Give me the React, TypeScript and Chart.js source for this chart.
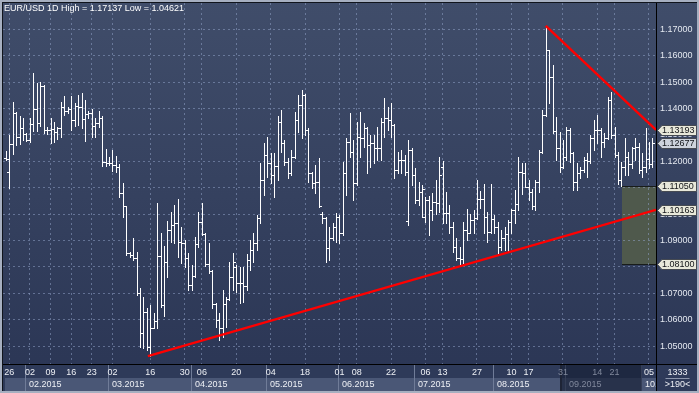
import React, { useEffect, useRef } from 'react';
import { Chart, registerables } from 'chart.js';

Chart.register(...registerables);

// ---------------- data ----------------
const TITLE = 'EUR/USD 1D High = 1.17137 Low = 1.04621';
const BAR_TOTAL = '1333';
const VISIBLE_BARS = '>190<';

const OPEN = [
  1.1211, 1.1158, 1.1264, 1.1382, 1.1291, 1.1325, 1.1304, 1.1281, 1.1343, 1.1400,
  1.1344, 1.1485, 1.1318, 1.1318, 1.1323, 1.1310, 1.1325, 1.1404, 1.1392, 1.1400,
  1.1357, 1.1410, 1.1407, 1.1360, 1.1380, 1.1382, 1.1334, 1.1347, 1.1365, 1.1197,
  1.1194, 1.1192, 1.1186, 1.1177, 1.1079, 1.1030, 1.0852, 1.0845, 1.0835, 1.0700,
  1.0550, 1.0630, 1.0497, 1.0570, 1.0596, 1.0840, 1.0655, 1.0820, 1.0938, 1.0960,
  1.0965, 1.0893, 1.0890, 1.0832, 1.0730, 1.0765, 1.0885, 1.0970, 1.0925, 1.0812,
  1.0785, 1.0660, 1.0600, 1.0570, 1.0660, 1.0680, 1.0763, 1.0800, 1.0740, 1.0738,
  1.0728, 1.0826, 1.0864, 1.0889, 1.0984, 1.1129, 1.1224, 1.1192, 1.1148, 1.1182,
  1.1350, 1.1268, 1.1199, 1.1155, 1.1218, 1.1357, 1.1413, 1.1451, 1.1320, 1.1155,
  1.1117, 1.1120, 1.1000, 1.0985, 1.0870, 1.0908, 1.0953, 1.0990, 1.0927, 1.1155,
  1.1275, 1.1237, 1.1117, 1.1294, 1.1287, 1.1325, 1.1262, 1.1268, 1.1249, 1.1249,
  1.1350, 1.1363, 1.1357, 1.1338, 1.1167, 1.1205, 1.1205, 1.0975, 1.1243, 1.1148,
  1.1054, 1.1085, 1.0990, 1.1054, 1.1016, 1.1047, 1.1041, 1.1180, 1.1005, 1.1005,
  1.0952, 1.0876, 1.0832, 1.0828, 1.0939, 1.0930, 1.0977, 1.0985, 1.1059, 1.1059,
  1.0990, 1.0933, 1.0980, 1.0952, 1.0876, 1.0908, 1.0925, 1.0971, 1.1015, 1.1040,
  1.1160, 1.1154, 1.1104, 1.1085, 1.1030, 1.1120, 1.1236, 1.1375, 1.1621, 1.1519,
  1.1316, 1.1249, 1.1180, 1.1215, 1.1318, 1.1230, 1.1122, 1.1154, 1.1167, 1.1205,
  1.1200, 1.1287, 1.1318, 1.1318, 1.1274, 1.1290, 1.1432, 1.1300, 1.1225, 1.1130,
  1.1180, 1.1215, 1.1190, 1.1249, 1.1255, 1.1168, 1.1180, 1.1210, 1.1190,
];

const HIGH = [
  1.1240, 1.1300, 1.1424, 1.1388, 1.1372, 1.1363, 1.1306, 1.1363, 1.1534, 1.1496,
  1.1500, 1.1488, 1.1330, 1.1363, 1.1350, 1.1331, 1.1424, 1.1448, 1.1407, 1.1449,
  1.1420, 1.1451, 1.1458, 1.1432, 1.1391, 1.1397, 1.1363, 1.1391, 1.1372, 1.1246,
  1.1218, 1.1243, 1.1220, 1.1190, 1.1117, 1.1032, 1.0858, 1.0908, 1.0858, 1.0719,
  1.0685, 1.0643, 1.0656, 1.0624, 1.1043, 1.0927, 1.0878, 1.0972, 1.1009, 1.1035,
  1.1056, 1.0952, 1.0900, 1.0851, 1.0807, 1.0914, 1.1009, 1.1041, 1.0927, 1.0889,
  1.0788, 1.0665, 1.0624, 1.0713, 1.0687, 1.0820, 1.0854, 1.0807, 1.0801, 1.0801,
  1.0850, 1.0902, 1.0927, 1.0997, 1.1193, 1.1268, 1.1291, 1.1230, 1.1230, 1.1372,
  1.1395, 1.1281, 1.1211, 1.1243, 1.1388, 1.1451, 1.1470, 1.1455, 1.1325, 1.1160,
  1.1186, 1.1211, 1.1009, 1.0990, 1.0952, 1.0965, 1.1003, 1.0995, 1.1199, 1.1287,
  1.1382, 1.1281, 1.1350, 1.1388, 1.1344, 1.1331, 1.1300, 1.1300, 1.1331, 1.1363,
  1.1439, 1.1407, 1.1420, 1.1340, 1.1237, 1.1243, 1.1224, 1.1281, 1.1250, 1.1173,
  1.1123, 1.1110, 1.1066, 1.1070, 1.1079, 1.1129, 1.1217, 1.1202, 1.1085, 1.1034,
  1.0971, 1.0908, 1.0876, 1.0971, 1.1021, 1.1002, 1.1015, 1.1131, 1.1088, 1.1116,
  1.1009, 1.1116, 1.0996, 1.0971, 1.0939, 1.0952, 1.0977, 1.1021, 1.1091, 1.1217,
  1.1192, 1.1192, 1.1129, 1.1097, 1.1129, 1.1243, 1.1394, 1.17137, 1.1621, 1.1565,
  1.1369, 1.1312, 1.1280, 1.1331, 1.1325, 1.1235, 1.1192, 1.1179, 1.1217, 1.1230,
  1.1299, 1.1356, 1.1375, 1.1325, 1.1306, 1.1444, 1.1463, 1.1331, 1.1235, 1.1198,
  1.1290, 1.1236, 1.1255, 1.1287, 1.1268, 1.1230, 1.1325, 1.1274, 1.1290,
];

const LOW = [
  1.1205, 1.1098, 1.1227, 1.1262, 1.1266, 1.1281, 1.1277, 1.1272, 1.1316, 1.1316,
  1.1335, 1.1309, 1.1305, 1.1271, 1.1275, 1.1283, 1.1294, 1.1376, 1.1382, 1.1319,
  1.1335, 1.1338, 1.1325, 1.1277, 1.1363, 1.1291, 1.1291, 1.1331, 1.1182, 1.1182,
  1.1185, 1.1163, 1.1161, 1.1066, 1.0988, 1.0845, 1.0839, 1.0826, 1.0694, 1.0498,
  1.0492, 1.0485, 1.04621, 1.0567, 1.0570, 1.0649, 1.0615, 1.0763, 1.0896, 1.0889,
  1.0839, 1.0814, 1.0800, 1.0713, 1.0714, 1.0760, 1.0877, 1.0921, 1.0805, 1.0776,
  1.0643, 1.0574, 1.0523, 1.0535, 1.0573, 1.0675, 1.0713, 1.0706, 1.0662, 1.0668,
  1.0712, 1.0788, 1.0820, 1.0864, 1.0965, 1.1073, 1.1142, 1.1117, 1.1066, 1.1129,
  1.1237, 1.1186, 1.1136, 1.1148, 1.1211, 1.1312, 1.1287, 1.1300, 1.1123, 1.1098,
  1.1079, 1.1028, 1.0965, 1.0820, 1.0826, 1.0902, 1.0896, 1.0889, 1.0920, 1.1073,
  1.1218, 1.1054, 1.1110, 1.1218, 1.1256, 1.1155, 1.1180, 1.1192, 1.1205, 1.1205,
  1.1294, 1.1319, 1.1294, 1.1136, 1.1155, 1.1155, 1.1148, 1.0959, 1.1110, 1.1041,
  1.1035, 1.0990, 1.0971, 1.0921, 1.0978, 1.1000, 1.1009, 1.0965, 1.0967, 1.0927,
  1.0857, 1.0826, 1.0807, 1.0813, 1.0901, 1.0927, 1.0927, 1.0980, 1.1022, 1.0927,
  1.0895, 1.0927, 1.0927, 1.0851, 1.0864, 1.0864, 1.0857, 1.0927, 1.0965, 1.1015,
  1.1078, 1.1104, 1.1053, 1.1021, 1.1015, 1.1085, 1.1230, 1.1372, 1.1420, 1.1306,
  1.1205, 1.1160, 1.1173, 1.1205, 1.1198, 1.1091, 1.1091, 1.1135, 1.1160, 1.1141,
  1.1195, 1.1243, 1.1268, 1.1217, 1.1255, 1.1285, 1.1290, 1.1217, 1.1116, 1.1107,
  1.1150, 1.1150, 1.1173, 1.1205, 1.1154, 1.1141, 1.1160, 1.1173, 1.1180,
];

const CLOSE = [
  1.1209, 1.1264, 1.1382, 1.1291, 1.1325, 1.1304, 1.1281, 1.1343, 1.1400, 1.1344,
  1.1485, 1.1318, 1.1320, 1.1323, 1.1310, 1.1325, 1.1404, 1.1392, 1.1400, 1.1357,
  1.1410, 1.1407, 1.1360, 1.1380, 1.1382, 1.1334, 1.1347, 1.1365, 1.1197, 1.1194,
  1.1192, 1.1186, 1.1177, 1.1079, 1.1030, 1.0852, 1.0845, 1.0835, 1.0700, 1.0550,
  1.0630, 1.0497, 1.0570, 1.0596, 1.0840, 1.0655, 1.0820, 1.0938, 1.0960, 1.0965,
  1.0893, 1.0890, 1.0832, 1.0730, 1.0765, 1.0885, 1.0970, 1.0925, 1.0812, 1.0785,
  1.0660, 1.0600, 1.0570, 1.0660, 1.0680, 1.0763, 1.0820, 1.0740, 1.0738, 1.0728,
  1.0826, 1.0864, 1.0889, 1.0984, 1.1129, 1.1224, 1.1192, 1.1148, 1.1182, 1.1350,
  1.1268, 1.1199, 1.1155, 1.1218, 1.1357, 1.1413, 1.1451, 1.1320, 1.1155, 1.1117,
  1.1120, 1.1030, 1.0985, 1.0870, 1.0908, 1.0953, 1.0990, 1.0927, 1.1155, 1.1275,
  1.1237, 1.1117, 1.1294, 1.1287, 1.1325, 1.1262, 1.1268, 1.1249, 1.1249, 1.1350,
  1.1363, 1.1357, 1.1338, 1.1167, 1.1205, 1.1205, 1.1161, 1.1243, 1.1148, 1.1054,
  1.1085, 1.1095, 1.1054, 1.1016, 1.1047, 1.1041, 1.1150, 1.1005, 1.1005, 1.0952,
  1.0876, 1.0832, 1.0828, 1.0939, 1.0930, 1.0977, 1.0985, 1.1059, 1.1059, 1.0990,
  1.0933, 1.0980, 1.0952, 1.0876, 1.0908, 1.0925, 1.0971, 1.1015, 1.1040, 1.1160,
  1.1154, 1.1104, 1.1085, 1.1030, 1.1120, 1.1236, 1.1375, 1.1621, 1.1519, 1.1316,
  1.1249, 1.1180, 1.1215, 1.1318, 1.1230, 1.1122, 1.1154, 1.1167, 1.1205, 1.1200,
  1.1287, 1.1318, 1.1318, 1.1274, 1.1290, 1.1432, 1.1300, 1.1225, 1.1130, 1.1180,
  1.1215, 1.1190, 1.1249, 1.1255, 1.1168, 1.1180, 1.1210, 1.1190, 1.12677,
];

// day ticks (bar index of the labelled day) and their labels
const DAY_TICK_INDEX = [1, 7, 13, 19, 25, 31, 42, 52, 57, 67, 77, 87, 97, 102, 112, 122, 127, 137, 147, 152, 162, 172, 177, 187];
const DAY_TICK_LABELS = ['26', '02', '09', '16', '23', '02', '16', '30', '06', '20', '04', '18', '01', '08', '22', '06', '13', '27', '10', '17', '31', '14', '21', '05'];

// first bar index of each month and the month labels
const MONTH_START_INDEX = [6, 30, 54, 76, 97, 119, 142, 163, 185];
const MONTH_LABELS = ['02.2015', '03.2015', '04.2015', '05.2015', '06.2015', '07.2015', '08.2015', '09.2015', '10.2015'];

// dimmed (shaded) range of the time axis, in bar index units
const SHADED_FROM = 161.6;
const SHADED_TO = 184.9;

const PRICE_TICKS = [1.05, 1.06, 1.07, 1.08, 1.09, 1.10, 1.11, 1.12, 1.13, 1.14, 1.15, 1.16, 1.17];

const X_MIN = -0.83;
const X_MAX = 189.05;
const Y_MIN = 1.0432;
const Y_MAX = 1.18;

const UPTREND = [{ x: 41.3, y: 1.04621 }, { x: X_MAX, y: 1.10163 }];
const DOWNTREND = [{ x: 157, y: 1.17137 }, { x: X_MAX, y: 1.13193 }];

const ZONE_FROM_INDEX = 179.25;
const ZONE_TOP = 1.1105;
const ZONE_BOTTOM = 1.081;

// ---------------- styling ----------------
const FAMILY = '"Liberation Sans", Arial, Helvetica, sans-serif';
const FONT = `9px ${FAMILY}`;
const GRID = 'rgba(150,168,205,0.5)';

const decorPlugin = {
  id: 'decor',
  beforeDraw(chart: any) {
    const { ctx, width, height, chartArea, scales } = chart;
    const xs = scales.x;
    const ys = scales.y;
    ctx.save();
    const g = ctx.createLinearGradient(0, 0, 0, height);
    g.addColorStop(0, 'rgb(64,77,106)');
    g.addColorStop(1, 'rgb(42,53,84)');
    ctx.fillStyle = g;
    ctx.fillRect(0, 0, width, height);

    // time axis rows
    const axTop = chartArea.bottom + 1;
    ctx.fillStyle = 'rgb(46,58,89)';
    ctx.fillRect(0, axTop, width, height - axTop);

    const seps = MONTH_START_INDEX.map((i) => Math.round(xs.getPixelForValue(i - 0.3)));
    const boxTop = chartArea.bottom + 14;
    const boxBottom = height - 2;
    const edges = [chartArea.left + 1, ...seps];
    for (let k = 0; k < edges.length; k++) {
      const l = edges[k] + 1;
      const r = Math.min(k + 1 < edges.length ? edges[k + 1] : chartArea.right, chartArea.right);
      if (r <= l) continue;
      ctx.fillStyle = 'rgb(74,87,118)';
      ctx.fillRect(l, boxTop, r - l, boxBottom - boxTop);
    }
    ctx.fillStyle = 'rgb(112,124,152)';
    seps.forEach((s) => ctx.fillRect(s, axTop, 1, boxBottom - axTop));

    // shaded range of the axis
    const sx1 = Math.round(xs.getPixelForValue(SHADED_FROM));
    const sx2 = Math.round(xs.getPixelForValue(SHADED_TO));
    ctx.fillStyle = 'rgba(22,30,52,0.65)';
    ctx.fillRect(sx1, axTop, sx2 - sx1, boxBottom - axTop);
    ctx.fillStyle = 'rgb(30,36,54)';
    ctx.fillRect(sx1 - 2, axTop, 2, boxBottom - axTop);

    // month labels
    ctx.save();
    ctx.beginPath();
    ctx.rect(0, axTop, chartArea.right, boxBottom - axTop);
    ctx.clip();
    ctx.font = FONT;
    ctx.textBaseline = 'middle';
    ctx.textAlign = 'left';
    MONTH_LABELS.forEach((lab, k) => {
      const dim = MONTH_START_INDEX[k] > SHADED_FROM && MONTH_START_INDEX[k] < SHADED_TO;
      ctx.fillStyle = dim ? 'rgb(128,136,156)' : 'rgb(238,240,245)';
      ctx.fillText(lab, seps[k] + 4, (boxTop + boxBottom) / 2 + 0.5);
    });
    ctx.restore();

    // zone rectangle
    const zx = Math.round(xs.getPixelForValue(ZONE_FROM_INDEX));
    const zy1 = Math.round(ys.getPixelForValue(ZONE_TOP));
    const zy2 = Math.round(ys.getPixelForValue(ZONE_BOTTOM));
    ctx.fillStyle = 'rgb(79,89,76)';
    ctx.fillRect(zx, zy1, chartArea.right - zx, zy2 - zy1);
    ctx.fillStyle = 'rgb(24,28,26)';
    ctx.fillRect(zx, zy1, chartArea.right - zx, 1);
    ctx.fillRect(zx, zy2, chartArea.right - zx, 1);
    ctx.restore();
  },
  beforeDatasetsDraw(chart: any) {
    const { ctx, chartArea, scales } = chart;
    const xs = scales.x;
    const ys = scales.y;
    ctx.save();
    ctx.beginPath();
    ctx.rect(chartArea.left, chartArea.top, chartArea.width, chartArea.height);
    ctx.clip();
    ctx.fillStyle = '#ffffff';
    for (let i = 0; i < OPEN.length; i++) {
      const cx = Math.round(xs.getPixelForValue(i));
      const yh = Math.round(ys.getPixelForValue(HIGH[i]));
      const yl = Math.round(ys.getPixelForValue(LOW[i]));
      const yo = Math.round(ys.getPixelForValue(OPEN[i]));
      const yc = Math.round(ys.getPixelForValue(CLOSE[i]));
      ctx.fillRect(cx, yh, 1, Math.max(1, yl - yh + 1));
      ctx.fillRect(cx - 2, yo, 2, 1);
      ctx.fillRect(cx + 1, yc, 2, 1);
    }
    ctx.restore();
  },
  afterDraw(chart: any) {
    const { ctx, width, height, chartArea, scales } = chart;
    const ys = scales.y;
    ctx.save();
    // axis lines
    ctx.fillStyle = '#000000';
    ctx.fillRect(chartArea.right, 3, 1, height - 5);
    ctx.fillRect(3, chartArea.bottom, width - 5, 1);

    // price tags
    const tags = [
      { v: DOWNTREND[1].y, fill: 'rgb(232,232,218)' },
      { v: CLOSE[CLOSE.length - 1], fill: 'rgb(206,211,220)' },
      { v: ZONE_TOP, fill: 'rgb(232,232,218)' },
      { v: UPTREND[1].y, fill: 'rgb(232,232,218)' },
      { v: ZONE_BOTTOM, fill: 'rgb(232,232,218)' },
    ];
    ctx.font = FONT;
    ctx.textBaseline = 'middle';
    ctx.textAlign = 'left';
    tags.forEach((t) => {
      const yc = Math.round(ys.getPixelForValue(t.v)) + 0.5;
      const x0 = chartArea.right + 1.5;
      ctx.beginPath();
      ctx.moveTo(x0, yc);
      ctx.lineTo(x0 + 4.5, yc - 5);
      ctx.lineTo(width - 2.5, yc - 5);
      ctx.lineTo(width - 2.5, yc + 5);
      ctx.lineTo(x0 + 4.5, yc + 5);
      ctx.closePath();
      ctx.fillStyle = t.fill;
      ctx.fill();
      ctx.strokeStyle = 'rgb(70,74,82)';
      ctx.lineWidth = 1;
      ctx.stroke();
      ctx.fillStyle = '#121418';
      ctx.fillText(t.v.toFixed(5), chartArea.right + 6, yc + 0.5);
    });

    // bottom-right counter box
    const midX = (chartArea.right + width) / 2;
    ctx.textAlign = 'center';
    ctx.fillStyle = 'rgb(238,240,245)';
    ctx.fillText(BAR_TOTAL, midX, chartArea.bottom + 8.5);
    ctx.fillStyle = 'rgb(140,150,172)';
    ctx.fillRect(midX - 12, chartArea.bottom + 14, 24, 1);
    ctx.fillStyle = 'rgb(238,240,245)';
    ctx.fillText(VISIBLE_BARS, midX, chartArea.bottom + 20.5);

    // title
    ctx.textAlign = 'left';
    ctx.fillStyle = '#ffffff';
    ctx.fillText(TITLE, 4, 9);

    // frame
    ctx.fillStyle = 'rgb(166,175,192)';
    ctx.fillRect(0, 0, width, 2);
    ctx.fillRect(0, 0, 2, height);
    ctx.fillRect(0, height - 2, width, 2);
    ctx.fillRect(width - 2, 0, 2, height);
    ctx.fillStyle = 'rgb(16,20,28)';
    ctx.fillRect(2, 2, width - 4, 1);
    ctx.fillRect(2, 2, 1, height - 4);
    ctx.restore();
  },
};

export default function App() {
  const ref = useRef<HTMLCanvasElement | null>(null);
  useEffect(() => {
    if (!ref.current) return;
    const chart = new Chart(ref.current, {
      type: 'line',
      data: {
        datasets: [
          {
            data: UPTREND,
            borderColor: 'rgb(255,0,0)',
            borderWidth: 2.4,
            pointRadius: 0,
            fill: false,
            tension: 0,
          },
          {
            data: DOWNTREND,
            borderColor: 'rgb(255,0,0)',
            borderWidth: 2.4,
            pointRadius: 0,
            fill: false,
            tension: 0,
          },
        ],
      },
      options: {
        responsive: false,
        animation: false,
        devicePixelRatio: 1,
        events: [],
        layout: { padding: { left: 3, top: 3, right: 0, bottom: 0 } },
        plugins: { legend: { display: false }, tooltip: { enabled: false } },
        scales: {
          x: {
            type: 'linear',
            position: 'bottom',
            min: X_MIN,
            max: X_MAX,
            afterBuildTicks: (s: any) => {
              s.ticks = DAY_TICK_INDEX.map((v) => ({ value: v }));
            },
            afterFit: (s: any) => {
              s.height = 29;
              s.paddingLeft = 0;
              s.paddingRight = 0;
            },
            grid: { color: GRID, lineWidth: 1, drawTicks: false },
            border: { display: false, dash: [2, 3] },
            ticks: {
              autoSkip: false,
              maxRotation: 0,
              minRotation: 0,
              padding: 3,
              font: { size: 9, family: FAMILY },
              color: (c: any) => {
                const v = c.tick ? c.tick.value : 0;
                return v > SHADED_FROM && v < SHADED_TO ? 'rgb(128,136,156)' : 'rgb(238,240,245)';
              },
              callback: (_v: any, idx: number) => DAY_TICK_LABELS[idx],
            },
          },
          y: {
            type: 'linear',
            position: 'right',
            min: Y_MIN,
            max: Y_MAX,
            afterBuildTicks: (s: any) => {
              s.ticks = PRICE_TICKS.map((v) => ({ value: v }));
            },
            afterFit: (s: any) => {
              s.width = 43;
              s.paddingTop = 0;
              s.paddingBottom = 0;
            },
            grid: { color: GRID, lineWidth: 1, drawTicks: false },
            border: { display: false, dash: [2, 3] },
            ticks: {
              padding: 4,
              font: { size: 9, family: FAMILY },
              color: 'rgb(228,232,240)',
              callback: (v: any) => Number(v).toFixed(5),
            },
          },
        },
      },
      plugins: [decorPlugin],
    } as any);
    return () => chart.destroy();
  }, []);
  return (
    <div style={{ position: 'fixed', left: 0, top: 0, width: 699, height: 393 }}>
      <canvas ref={ref} width={699} height={393} style={{ display: 'block' }} />
    </div>
  );
}
